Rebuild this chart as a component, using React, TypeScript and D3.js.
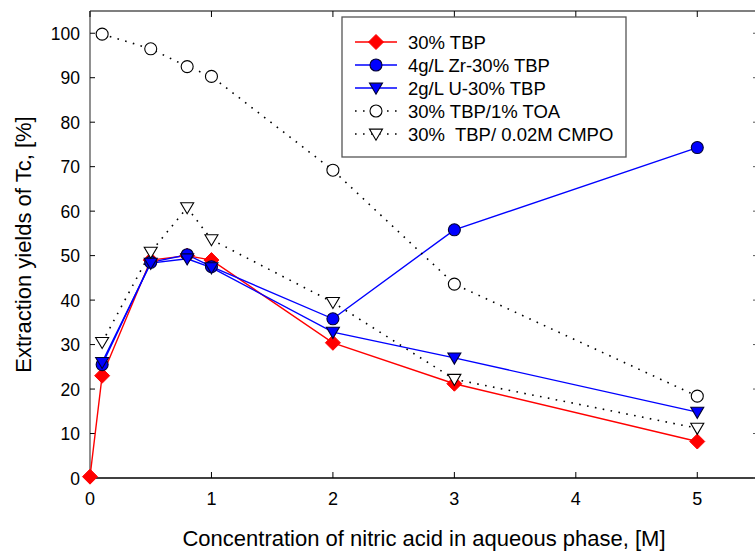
import React from "react";
import * as d3 from "d3";

// Nitric acid concentration, M
const acid = [0, 0.1, 0.5, 0.8, 1, 2, 3, 5];
const acidZr = [0.1, 0.5, 0.8, 1, 2, 3, 5];

// Extraction yields of Tc, %
const tbp = [0.3, 23, 49, 50, 49, 30.4, 21.2, 8.2];
const zrTbp = [25.5, 48.5, 50.2, 47.5, 35.8, 55.8, 74.3];
const uTbp = [26, 48.3, 49.3, 47.3, 32.8, 27, 14.8];
const toaTbp = [99.8, 96.5, 92.5, 90.3, 69.2, 43.6, 18.4];
const cmpoTbp = [30.5, 50.8, 60.8, 53.6, 39.5, 22.2, 11.2];

const xTicks = [0, 1, 2, 3, 4, 5];
const yTicks = [0, 10, 20, 30, 40, 50, 60, 70, 80, 90, 100];

const legendLabels = [
  "30% TBP",
  "4g/L Zr-30% TBP",
  "2g/L U-30% TBP",
  "30% TBP/1% TOA",
  "30%  TBP/ 0.02M CMPO",
];

type Marker = "diamond" | "circle" | "tri";
interface Series {
  xs: number[];
  ys: number[];
  line: string;
  dotted: boolean;
  marker: Marker;
  fill: string;
  stroke: string;
}

const series: Series[] = [
  { xs: acid, ys: tbp, line: "#ff0000", dotted: false, marker: "diamond", fill: "#ff0000", stroke: "#ff0000" },
  { xs: acidZr, ys: zrTbp, line: "#0000ff", dotted: false, marker: "circle", fill: "#0000ff", stroke: "#000033" },
  { xs: acidZr, ys: uTbp, line: "#0000ff", dotted: false, marker: "tri", fill: "#0000ff", stroke: "#000033" },
  { xs: acidZr, ys: toaTbp, line: "#000000", dotted: true, marker: "circle", fill: "#ffffff", stroke: "#000000" },
  { xs: acidZr, ys: cmpoTbp, line: "#000000", dotted: true, marker: "tri", fill: "#ffffff", stroke: "#000000" },
];

const W = 755;
const H = 552;
const left = 90;
const right = 758;
const top = 11;
const bottom = 478;

const FONT = "Liberation Sans, Arial, sans-serif";

function MarkerShape({ m, cx, cy, fill, stroke }: { m: Marker; cx: number; cy: number; fill: string; stroke: string }) {
  if (m === "diamond") {
    const r = 7.5;
    return <path d={`M${cx},${cy - r}L${cx + r},${cy}L${cx},${cy + r}L${cx - r},${cy}Z`} fill={fill} stroke={stroke} strokeWidth={1} />;
  }
  if (m === "circle") {
    return <circle cx={cx} cy={cy} r={6} fill={fill} stroke={stroke} strokeWidth={1.1} />;
  }
  const s = 6.5;
  return (
    <path
      d={`M${cx - s},${cy - s * 0.75}L${cx + s},${cy - s * 0.75}L${cx},${cy + s * 0.95}Z`}
      fill={fill}
      stroke={stroke}
      strokeWidth={1.1}
    />
  );
}

export default function App() {
  const x = d3.scaleLinear().domain([0, 5.5]).range([left, right]);
  const y = d3.scaleLinear().domain([0, 105]).range([bottom, top]);
  const line = d3
    .line<[number, number]>()
    .x((d) => x(d[0]))
    .y((d) => y(d[1]));

  const legX = 342;
  const legY = 17;
  const legW = 284;
  const legH = 140;
  const rowY = (i: number) => 42 + i * 23;

  return (
    <svg
      width={W}
      height={H}
      style={{ position: "absolute", left: 0, top: 0, background: "#fff", display: "block" }}
      fontFamily={FONT}
    >
      {/* frame */}
      <line x1={left} x2={W} y1={top} y2={top} stroke="#555" strokeWidth={1.3} />
      <line x1={left} x2={left} y1={top} y2={bottom} stroke="#555" strokeWidth={1.3} />
      <line x1={left} x2={W} y1={bottom} y2={bottom} stroke="#000" strokeWidth={1.3} />

      {/* x ticks */}
      {xTicks.map((t) => (
        <g key={"x" + t}>
          <line x1={x(t)} x2={x(t)} y1={bottom} y2={bottom - 6} stroke="#000" strokeWidth={1} />
          <line x1={x(t)} x2={x(t)} y1={top} y2={top + 6} stroke="#000" strokeWidth={1} />
          <text x={x(t)} y={bottom + 27} textAnchor="middle" fontSize={18} fill="#000">
            {t}
          </text>
        </g>
      ))}

      {/* y ticks */}
      {yTicks.map((t) => (
        <g key={"y" + t}>
          <line x1={left} x2={left + 5} y1={y(t)} y2={y(t)} stroke="#000" strokeWidth={1} />
          <line x1={right - 5} x2={right} y1={y(t)} y2={y(t)} stroke="#555" strokeWidth={1} />
          <text x={left - 10} y={y(t) + 6.5} textAnchor="end" fontSize={17.5} fill="#000">
            {t}
          </text>
        </g>
      ))}

      {/* axis titles */}
      <text x={424} y={546} textAnchor="middle" fontSize={22} fill="#000">
        Concentration of nitric acid in aqueous phase, [M]
      </text>
      <text
        transform={`translate(31,${(top + bottom) / 2}) rotate(-90)`}
        textAnchor="middle"
        fontSize={22}
        fill="#000"
      >
        Extraction yields of Tc, [%]
      </text>

      {/* series lines */}
      {series.map((s, i) => (
        <path
          key={"l" + i}
          d={line(s.xs.map((v, j) => [v, s.ys[j]] as [number, number])) || ""}
          fill="none"
          stroke={s.line}
          strokeWidth={s.dotted ? 1.6 : 1.4}
          strokeDasharray={s.dotted ? "1.6 6.4" : undefined}
        />
      ))}

      {/* series markers */}
      {series.map((s, i) => (
        <g key={"m" + i}>
          {s.xs.map((v, j) => (
            <MarkerShape key={j} m={s.marker} cx={x(v)} cy={y(s.ys[j])} fill={s.fill} stroke={s.stroke} />
          ))}
        </g>
      ))}

      {/* legend */}
      <rect x={legX} y={legY} width={legW} height={legH} fill="#fff" stroke="#555" strokeWidth={1.3} />
      {series.map((s, i) => (
        <g key={"lg" + i}>
          <line
            x1={355}
            x2={397}
            y1={rowY(i)}
            y2={rowY(i)}
            stroke={s.line}
            strokeWidth={s.dotted ? 1.6 : 1.4}
            strokeDasharray={s.dotted ? "1.6 6.4" : undefined}
          />
          <MarkerShape m={s.marker} cx={376} cy={rowY(i)} fill={s.fill} stroke={s.stroke} />
          <text x={408} y={rowY(i) + 6.5} fontSize={18.5} fill="#000" style={{ whiteSpace: "pre" }}>
            {legendLabels[i]}
          </text>
        </g>
      ))}
    </svg>
  );
}
